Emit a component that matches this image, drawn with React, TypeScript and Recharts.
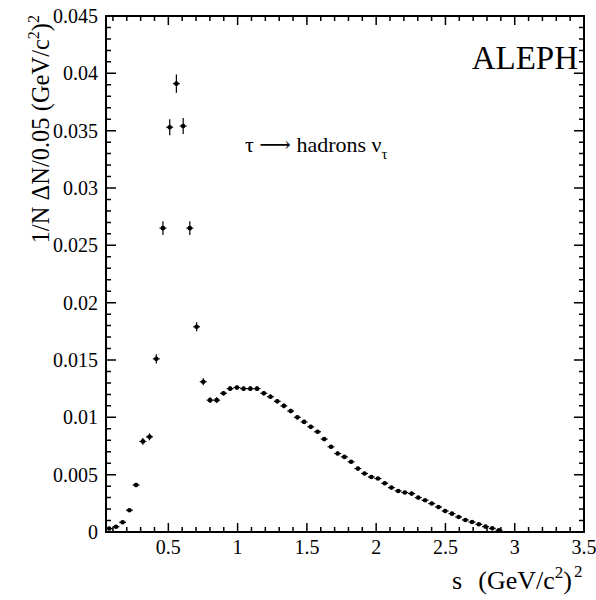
import { ErrorBar, ReferenceArea, Scatter, ScatterChart, XAxis, YAxis } from "recharts";

const sValues = [
	0.073, 0.122, 0.17, 0.219, 0.267, 0.316, 0.364, 0.413, 0.461, 0.51,
	0.558, 0.607, 0.655, 0.704, 0.752, 0.801, 0.849, 0.898, 0.946, 0.995,
	1.043, 1.092, 1.14, 1.189, 1.237, 1.286, 1.334, 1.383, 1.431, 1.48,
	1.528, 1.577, 1.625, 1.674, 1.722, 1.771, 1.819, 1.868, 1.916, 1.965,
	2.013, 2.062, 2.11, 2.159, 2.207, 2.256, 2.304, 2.353, 2.401, 2.45,
	2.498, 2.547, 2.595, 2.644, 2.692, 2.741, 2.789, 2.838, 2.886,
];

// 1/N dN/0.05
const yields = [
	0.0003, 0.00046, 0.00085, 0.0019, 0.0041, 0.0079, 0.0083, 0.0151, 0.0265, 0.0353,
	0.0391, 0.0354, 0.0265, 0.0179, 0.0131, 0.0115, 0.0115, 0.0121, 0.0125, 0.0126,
	0.0125, 0.0125, 0.0125, 0.0121, 0.0118, 0.0114, 0.011, 0.01055, 0.01, 0.0096,
	0.00917, 0.00874, 0.0081, 0.00743, 0.00684, 0.00655, 0.00612, 0.00553, 0.0051, 0.0048,
	0.00466, 0.00425, 0.00387, 0.00358, 0.00344, 0.00335, 0.003, 0.00277, 0.00248, 0.00218,
	0.00183, 0.0016, 0.00131, 0.00105, 0.00087, 0.00067, 0.00047, 0.00032, 0.00015,
];

const yieldErrors = [
	0.0001, 0.0001, 0.0001, 0.00015, 0.0002, 0.0003, 0.0003, 0.0004, 0.0006, 0.0007,
	0.0008, 0.0007, 0.0006, 0.0004, 0.0003, 0.00025, 0.00025, 0.0002, 0.0002, 0.0002,
	0.0002, 0.0002, 0.0002, 0.0002, 0.0002, 0.0002, 0.0002, 0.0002, 0.00018, 0.00018,
	0.00018, 0.00016, 0.00016, 0.00016, 0.00015, 0.00015, 0.00015, 0.00014, 0.00014, 0.00013,
	0.00013, 0.00012, 0.00012, 0.00012, 0.00011, 0.00011, 0.0001, 0.0001, 0.0001, 0.0001,
	0.0001, 0.0001, 0.0001, 0.0001, 0.0001, 0.0001, 0.0001, 0.0001, 0.0001,
];

const binHalfWidth = 0.025;

const xMajorTicks = [0.5, 1, 1.5, 2, 2.5, 3, 3.5];
const xTickLabels = ["0.5", "1", "1.5", "2", "2.5", "3", "3.5"];
const yMajorTicks = [0, 0.005, 0.01, 0.015, 0.02, 0.025, 0.03, 0.035, 0.04, 0.045];
const yTickLabels = ["0", "0.005", "0.01", "0.015", "0.02", "0.025", "0.03", "0.035", "0.04", "0.045"];

const xTicks = Array.from({ length: 35 }, (_, i) => (i + 1) / 10);
const yTicks = Array.from({ length: 46 }, (_, i) => i / 1000);

const points = sValues.map((s, i) => ({
	s,
	y: yields[i],
	err: yieldErrors[i],
	xerr: binHalfWidth,
}));

const W = 596;
const H = 600;
const TOP = 16;
const BOTTOM = 532;
const LEFT = 106;
const RIGHT = 584;
const FONT = "'Liberation Serif', 'DejaVu Serif', serif";
const serif = { fontFamily: FONT };

const XTick = ({ x, y, payload }: any) => {
	const idx = xMajorTicks.findIndex((t) => Math.abs(t - payload.value) < 1e-6);
	const len = idx >= 0 ? 9 : 5;
	return (
		<g>
			<path d={`M${x},${y}V${y - len}M${x},${TOP}V${TOP + len}`} stroke="#000" strokeWidth={1.5} fill="none" />
			{idx >= 0 && (
				<text x={x} y={y + 22} textAnchor="middle" style={serif} fontSize={20} fill="#000">
					{xTickLabels[idx]}
				</text>
			)}
		</g>
	);
};

const YTick = ({ x, y, payload }: any) => {
	const idx = yMajorTicks.findIndex((t) => Math.abs(t - payload.value) < 1e-7);
	const len = idx >= 0 ? 10 : 5;
	return (
		<g>
			<path d={`M${x},${y}H${x + len}M${RIGHT},${y}H${RIGHT - len}`} stroke="#000" strokeWidth={1.5} fill="none" />
			{idx >= 0 && (
				<text x={x - 8} y={y + 7} textAnchor="end" style={serif} fontSize={20} fill="#000">
					{yTickLabels[idx]}
				</text>
			)}
		</g>
	);
};

const Dot = (props: any) => <circle cx={props.cx} cy={props.cy} r={2.3} fill="#000" />;

export default function App() {
	return (
		<div style={{ position: "absolute", left: 0, top: 0, width: W, height: H, background: "#fff" }}>
			<ScatterChart width={W} height={H} margin={{ top: TOP, right: W - RIGHT, bottom: 0, left: 0 }}>
				<XAxis
					type="number"
					dataKey="s"
					domain={[0.05, 3.5]}
					ticks={xTicks}
					interval={0}
					allowDataOverflow
					height={H - BOTTOM}
					axisLine={false}
					tickLine={false}
					tickSize={0}
					tickMargin={0}
					tick={<XTick />}
				/>
				<YAxis
					type="number"
					dataKey="y"
					domain={[0, 0.045]}
					ticks={yTicks}
					interval={0}
					allowDataOverflow
					width={LEFT}
					axisLine={false}
					tickLine={false}
					tickSize={0}
					tickMargin={0}
					tick={<YTick />}
				/>
				<ReferenceArea
					x1={0.05}
					x2={3.5}
					y1={0}
					y2={0.045}
					fill="none"
					fillOpacity={0}
					stroke="#000"
					strokeWidth={2}
					ifOverflow="visible"
				/>
				<Scatter data={points} shape={<Dot />} isAnimationActive={false}>
					<ErrorBar dataKey="err" direction="y" width={0} stroke="#000" strokeWidth={1.2} />
					<ErrorBar dataKey="xerr" direction="x" width={0} stroke="#000" strokeWidth={1.2} />
				</Scatter>
			</ScatterChart>
			<svg
				width={W}
				height={H}
				style={{ position: "absolute", left: 0, top: 0, pointerEvents: "none" }}
			>
				<path
					d={`M${LEFT},${TOP}H${RIGHT}V${BOTTOM}H${LEFT}Z`}
					fill="none"
					stroke="#000"
					strokeWidth={2}
				/>
				<text x={578} y={69} textAnchor="end" fontSize={33} style={serif} fill="#000">
					ALEPH
				</text>
				<text x={245} y={152} fontSize={22} style={serif} fill="#000">
					τ ⟶ hadrons ν
					<tspan dy={7} fontSize={15}>
						τ
					</tspan>
				</text>
				<text transform="rotate(-90)" x={-15} y={49} textAnchor="end" fontSize={24.5} style={serif} fill="#000">
					1/N ΔN/0.05 (GeV/c
					<tspan dy={-10} fontSize={16}>
						2
					</tspan>
					<tspan dy={10}>)</tspan>
					<tspan dy={-10} fontSize={16}>
						2
					</tspan>
				</text>
				<text x={452} y={589} fontSize={26} style={serif} fill="#000">
					s
				</text>
				<text x={572} y={589} textAnchor="end" fontSize={26} style={serif} fill="#000">
					(GeV/c
					<tspan dy={-11} fontSize={17}>
						2
					</tspan>
					<tspan dy={11}>)</tspan>
				</text>
				<text x={574} y={577} fontSize={17} style={serif} fill="#000">
					2
				</text>
			</svg>
		</div>
	);
}
